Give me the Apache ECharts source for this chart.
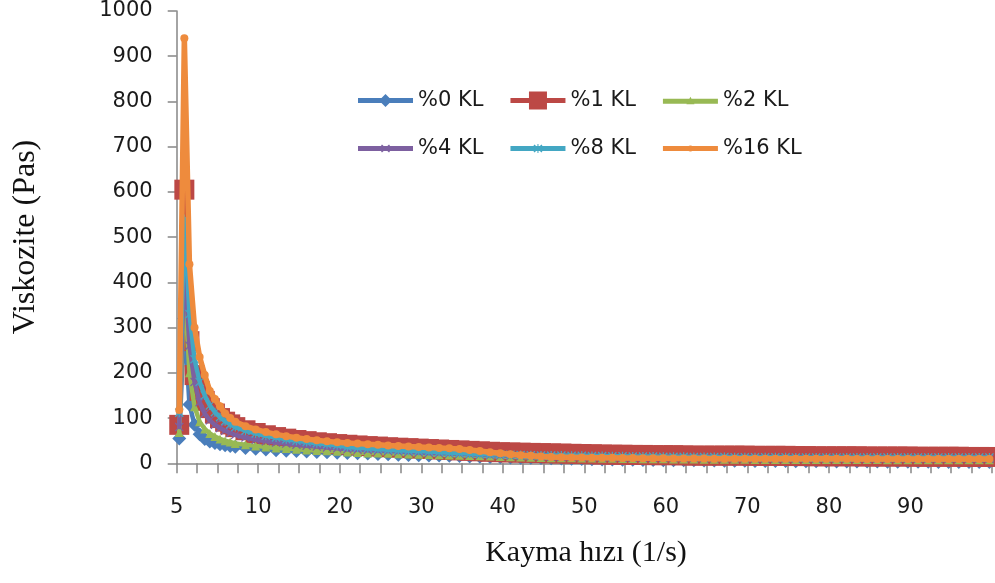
<!DOCTYPE html>
<html>
<head>
<meta charset="utf-8">
<script src="https://cdn.jsdelivr.net/npm/echarts@6/dist/echarts.min.js"></script>
<style>
html,body{margin:0;padding:0;background:#fff;}
#chart{width:995px;height:583px;}
</style>
</head>
<body>
<div id="chart"></div>
<script>
// Category position of each sampled point (x axis is a category-index scale:
// one unit per measured shear-rate step, labelled every 16 steps)
const xPos = [0.5, 1.5, 2.5, 3.5, 4.5, 5.5, 6.5, 7.5, 8.5, 9.5, 10.5, 11.5,
  13.5, 15.5, 17.5, 19.5, 21.5, 23.5, 25.5, 27.5, 29.5, 31.5,
  33.5, 35.5, 37.5, 39.5, 41.5, 43.5, 45.5, 47.5, 49.5, 51.5,
  53.5, 55.5, 57.5, 59.5, 61.5, 63.5, 65.5, 67.5, 69.5, 71.5,
  73.5, 75.5, 77.5, 79.5, 81.5, 83.5, 85.5, 87.5, 89.5, 91.5,
  93.5, 95.5, 97.5, 99.5, 101.5, 103.5, 105.5, 107.5, 109.5, 111.5,
  113.5, 115.5, 117.5, 119.5, 121.5, 123.5, 125.5, 127.5, 129.5, 131.5,
  133.5, 135.5, 137.5, 139.5, 141.5, 143.5, 145.5, 147.5, 149.5, 151.5,
  153.5, 155.5, 157.5, 159.5];
// Tick labels shown every 16 category positions
const xTickLabels = ['5', '10', '20', '30', '40', '50', '60', '70', '80', '90'];
const seriesNames = ['%0 KL', '%1 KL', '%2 KL', '%4 KL', '%8 KL', '%16 KL'];

const kl0 = [55, 320, 130, 85, 64, 54, 48, 45, 42, 40, 38, 36.5,
  34, 32, 30.5, 29, 28, 27, 26, 25.2, 24.5, 23.5,
  23, 22, 21.5, 20.5, 20, 19, 18.5, 18, 17.5, 17,
  16.5, 16, 15, 14.5, 14, 13.5, 13, 12.5, 12, 11.5,
  11, 10.5, 10, 9.5, 9, 8.5, 8.5, 8, 8, 7.5,
  7.5, 7, 7, 6.5, 6.5, 6, 6, 5.5, 5.5, 5.5,
  5, 5, 5, 5, 4.5, 4.5, 4.5, 4.5, 4, 4,
  4, 4, 4, 3.5, 3.5, 3.5, 3.5, 3.5, 3, 3,
  3, 3, 3, 3];
const kl1 = [85, 605, 270, 195, 160, 138, 122, 110, 100, 92, 86, 80,
  73, 67, 62, 58, 54.5, 51.5, 49, 46.5, 44.5, 42.5,
  41, 39.5, 38, 37, 35.5, 34.5, 33.5, 32.5, 31.5, 30.5,
  29.5, 28.5, 27.5, 26.5, 25.5, 24.5, 24, 23.5, 23, 22.5,
  22, 21.5, 21, 20.5, 20, 19.5, 19, 19, 18.5, 18.5,
  18, 18, 18, 17.5, 17, 17, 17, 17, 17, 17,
  16.5, 16.5, 16.5, 16.5, 16, 16, 15.5, 15.5, 15.5, 15.5,
  15.5, 15, 15, 15, 15, 15, 14.5, 14.5, 14.5, 14.5,
  14.5, 14, 14, 14];
const kl2 = [68, 400, 200, 125, 92, 76, 66, 59, 54, 50, 47, 44,
  41, 38.5, 36, 34, 32.5, 31, 29.5, 28.5, 27.5, 26.5,
  25, 24, 23, 22.5, 22, 21, 20.5, 20, 19.5, 19,
  18.5, 18, 17, 16.5, 16, 15, 14.5, 14, 13.5, 13,
  12.5, 12, 12, 11.5, 11.5, 11, 11, 10.5, 10.5, 10,
  10, 10, 9.5, 9.5, 9.5, 9, 9, 9, 9, 9,
  8.5, 8.5, 8.5, 8.5, 8.5, 8.5, 8.5, 8.5, 8.5, 8.5,
  8.5, 8.5, 8.5, 8, 8, 8, 8, 8, 8, 8,
  8, 8, 8, 8];
const kl4 = [80, 450, 260, 180, 135, 110, 95, 85, 78, 72, 67, 63,
  57, 52, 49, 46, 43.5, 41, 39, 37, 35, 33,
  31, 30, 29, 28, 27, 26, 25, 24, 23, 22,
  21.5, 21, 20, 19, 18, 17, 16.5, 16, 15.5, 15,
  14.5, 14, 14, 13.5, 13.5, 13, 13, 12.5, 12.5, 12,
  12, 12, 11.5, 11.5, 11.5, 11, 11, 11, 11, 11,
  10.5, 10.5, 10.5, 10.5, 10.5, 10.5, 10.5, 10.5, 10.5, 10.5,
  10.5, 10, 10, 10, 10, 10, 10, 10, 10, 10,
  10, 10, 10, 10];
const kl8 = [112, 540, 330, 230, 180, 150, 128, 113, 102, 93, 86, 80,
  72, 66, 61, 57, 53, 50, 47, 44.5, 42, 40,
  36, 34.5, 33, 31.5, 30, 29, 28, 27, 26, 25,
  23.5, 22.5, 21.5, 20.5, 20, 19.5, 19, 18.5, 18, 17.5,
  17, 17, 16.5, 16.5, 16, 16, 15.5, 15.5, 15, 15,
  15, 14.5, 14.5, 14.5, 14, 14, 14, 14, 13.5, 13.5,
  13.5, 13.5, 13.5, 13.5, 13, 13, 13, 13, 13, 13,
  13, 13, 13, 13, 13, 13, 13, 13, 13, 13,
  13, 13, 13, 13];
const kl16 = [118, 940, 440, 300, 235, 195, 160, 142, 126, 110, 100, 92,
  82, 75, 69, 64, 60, 56.5, 53.5, 51, 48.5, 46.5,
  45, 43.5, 42, 41, 39.5, 38.5, 37, 36, 35, 34,
  33, 31.5, 29.5, 27, 24.5, 22, 20, 18, 16.5, 15,
  14, 13.5, 13, 13, 12.5, 12, 12, 11.5, 11.5, 11,
  11, 11, 10.5, 10.5, 10.5, 10.5, 10, 10, 10, 10,
  10, 10, 10, 10, 10, 10, 10, 10, 10, 10,
  9.5, 9.5, 9.5, 9.5, 9.5, 9.5, 9.5, 9.5, 9.5, 9.5,
  9.5, 9.5, 9.5, 9.5];

const seriesValues = [kl0, kl1, kl2, kl4, kl8, kl16];
const colors = ['#4A7EBB', '#BC4845', '#98B954', '#7D60A0', '#43A7C3', '#EE8B3D'];
const xMark = 'path://M1,0 L5,4 L9,0 L10,1 L6,5 L10,9 L9,10 L5,6 L1,10 L0,9 L4,5 L0,1 Z';
const starMark = 'path://M1,0 L5,4 L9,0 L10,1 L6,5 L10,9 L9,10 L5,6 L1,10 L0,9 L4,5 L0,1 Z M4.3,0 L5.7,0 L5.7,10 L4.3,10 Z';
const symbols = ['diamond', 'rect', 'triangle', xMark, starMark, 'circle'];
const symbolSizes = [14, 20, 9, 9, 9, 8];
const lineWidths = [4.5, 4.5, 4.5, 4.5, 4.5, 5.5];

// Legend icons: a 55px line sample with the series marker in the middle
const legendLine = 'M0,6.5 L55,6.5 L55,11.5 L0,11.5 Z ';
const legendIcons = [
  'path://' + legendLine + 'M27.5,2.5 L34,9 L27.5,15.5 L21,9 Z',
  'path://' + legendLine + 'M18.5,0 L36.5,0 L36.5,18 L18.5,18 Z',
  'path://' + legendLine + 'M27.5,4.5 L31.5,12 L23.5,12 Z',
  'path://' + legendLine + 'M24,5 L27.5,8.3 L31,5 L32,6 L28.5,9 L32,12 L31,13 L27.5,9.7 L24,13 L23,12 L26.5,9 L23,6 Z',
  'path://' + legendLine + 'M24,5 L27.5,8.3 L31,5 L32,6 L28.5,9 L32,12 L31,13 L27.5,9.7 L24,13 L23,12 L26.5,9 L23,6 Z M27,4.5 L28,4.5 L28,13.5 L27,13.5 Z',
  'path://' + legendLine + 'M24.5,9 A3,3 0 1,1 30.5,9 A3,3 0 1,1 24.5,9 Z'
];

const chart = echarts.init(document.getElementById('chart'), null, {renderer: 'canvas'});
const axisColor = '#868686';
const tickFont = {fontFamily: 'DejaVu Sans', fontSize: 21, color: '#1a1a1a'};

const series = seriesNames.map((name, s) => ({
  name: name,
  type: 'line',
  data: xPos.map((x, i) => [x, seriesValues[s][i]]),
  symbol: symbols[s],
  symbolSize: symbolSizes[s],
  showAllSymbol: true,
  smooth: false,
  lineStyle: {color: colors[s], width: lineWidths[s], cap: 'round', join: 'round'},
  itemStyle: {color: colors[s]},
  emphasis: {disabled: true},
  z: 2 + s
}));

const legendCommon = {
  itemWidth: 55, itemHeight: 18, itemGap: 27, left: 353, orient: 'horizontal',
  textStyle: {fontFamily: 'DejaVu Sans', fontSize: 21, color: '#1a1a1a'},
  selectedMode: false
};
const legendData = seriesNames.map((n, i) => ({name: n, icon: legendIcons[i]}));

chart.setOption({
  animation: false,
  backgroundColor: '#ffffff',
  grid: {left: 176.7, right: 0, top: 11, bottom: 119.7, containLabel: false},
  xAxis: {
    type: 'value', min: 0, max: 160.6, interval: 4,
    axisLine: {show: true, lineStyle: {color: axisColor, width: 1.5}},
    axisTick: {show: true, inside: false, length: 10, lineStyle: {color: axisColor, width: 1.5}},
    axisLabel: {
      margin: 34, ...tickFont,
      showMaxLabel: false,
      formatter: v => (Math.abs(v % 16) < 1e-6 ? (xTickLabels[Math.round(v / 16)] || '') : '')
    },
    splitLine: {show: false}
  },
  yAxis: {
    type: 'value', min: 0, max: 1000, interval: 100,
    axisLine: {show: true, lineStyle: {color: axisColor, width: 1.5}},
    axisTick: {show: true, inside: false, length: 9, lineStyle: {color: axisColor, width: 1.5}},
    axisLabel: {margin: 24, ...tickFont, formatter: v => String(v)},
    splitLine: {show: false}
  },
  legend: [
    Object.assign({}, legendCommon, {top: 85, data: legendData.slice(0, 3)}),
    Object.assign({}, legendCommon, {top: 133, data: legendData.slice(3, 6)})
  ],
  graphic: [
    {type: 'text', x: 26, y: 237, rotation: Math.PI / 2,
     style: {text: 'Viskozite (Pas)', fontFamily: 'Liberation Serif', fontSize: 32, fill: '#111',
             textAlign: 'center', textVerticalAlign: 'middle'}},
    {type: 'text', x: 586, y: 553,
     style: {text: 'Kayma hızı (1/s)', fontFamily: 'Liberation Serif', fontSize: 30, fill: '#111',
             textAlign: 'center', textVerticalAlign: 'middle'}}
  ],
  series: series
});
</script>
</body>
</html>
